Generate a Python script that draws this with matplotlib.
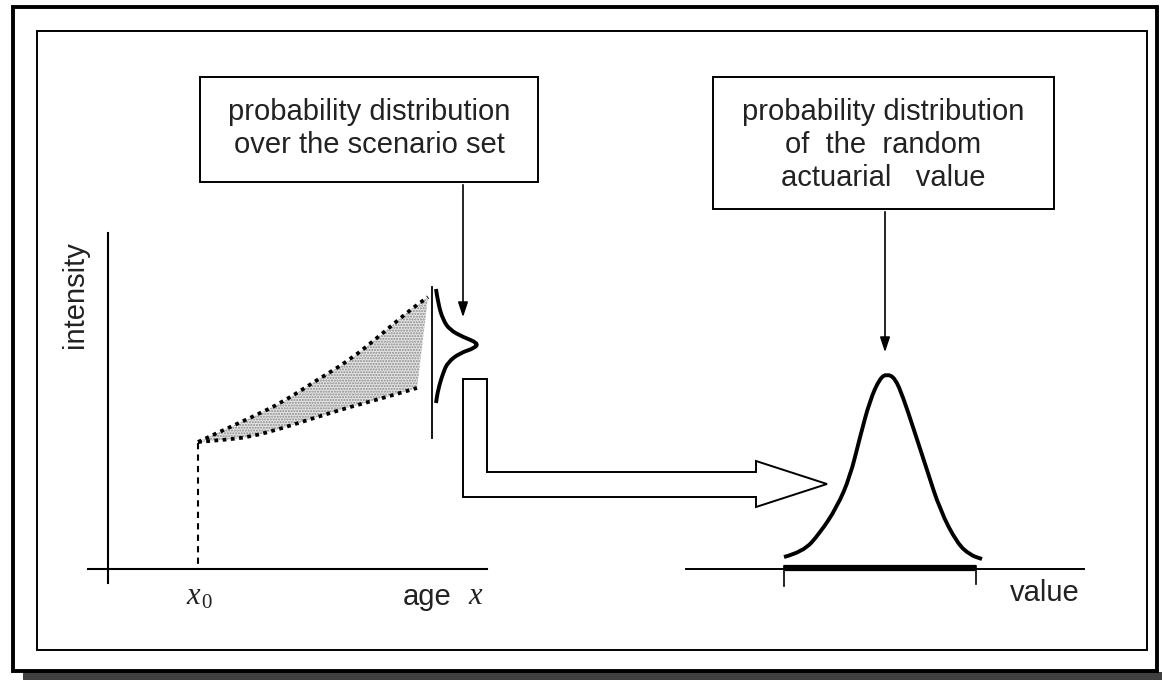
import numpy as np
import matplotlib
matplotlib.use("Agg")
import matplotlib.pyplot as plt
from matplotlib.patches import Rectangle, Polygon, PathPatch
from matplotlib.path import Path

# --- data (pixel coords, y downwards) ---
# upper / lower scenario curves of the intensity band
upper_x = [198, 217, 250, 283, 317, 350, 383, 410, 428]
upper_y = [442, 433, 418, 402, 380, 360, 333, 310, 297]
lower_x = [198, 223, 250, 283, 317, 350, 383, 417]
lower_y = [442, 440, 437, 428, 417, 407, 398, 388]

# sideways density over the scenario set
side_x = [436, 438, 443, 450, 463, 478, 475, 460, 448, 443, 438, 436]
side_y = [289, 303, 320, 330, 337, 343, 348, 353, 362, 373, 390, 403]

# density of the random actuarial value
bell_x = [784, 803, 820, 837, 850, 860, 870, 880, 887, 895, 903, 913, 927, 940, 957, 970, 982]
bell_y = [557, 552, 533, 507, 477, 437, 400, 378, 374, 378, 397, 427, 470, 510, 543, 555, 559]

box1_lines = ["probability distribution", "over the scenario set"]
box2_lines = ["probability distribution", "of  the  random", "actuarial   value"]

plt.rcParams['font.family'] = ['Liberation Sans', 'DejaVu Sans']
plt.rcParams['hatch.linewidth'] = 1.0

FS = 21
TXT = '#222222'


def smooth(xs, ys):
    # quadratic bezier through midpoints, so the curve is drawn smooth
    pts = list(zip(xs, ys))
    verts = [pts[0]]
    codes = [Path.MOVETO]
    for i in range(1, len(pts) - 1):
        mx = (pts[i][0] + pts[i + 1][0]) / 2
        my = (pts[i][1] + pts[i + 1][1]) / 2
        verts += [pts[i], (mx, my)]
        codes += [Path.CURVE3, Path.CURVE3]
    verts.append(pts[-1])
    codes.append(Path.LINETO)
    return Path(verts, codes)


fig = plt.figure(figsize=(11.62, 6.8), dpi=100)
ax = fig.add_axes([0, 0, 1, 1])
ax.set_xlim(0, 1162)
ax.set_ylim(680, 0)
ax.axis('off')

# frames + shadow
ax.add_patch(Rectangle((23, 672), 1162, 10, color='#404040', lw=0))
ax.add_patch(Rectangle((13, 7), 1144, 664, fill=False, ec='black', lw=2.8))
ax.add_patch(Rectangle((37, 31), 1110, 619, fill=False, ec='black', lw=1.4))

# text boxes
ax.add_patch(Rectangle((200, 77), 338, 105, fill=False, ec='black', lw=1.4))
for i, t in enumerate(box1_lines):
    ax.text(369, 112 + i * 33, t, ha='center', va='center', fontsize=FS, color=TXT)
ax.add_patch(Rectangle((713, 77), 341, 132, fill=False, ec='black', lw=1.4))
for i, t in enumerate(box2_lines):
    ax.text(883, 112 + i * 33, t, ha='center', va='center', fontsize=FS, color=TXT)

# arrows from the boxes
ax.annotate('', xy=(463, 320), xytext=(463, 182),
            arrowprops=dict(arrowstyle='-|>,head_width=0.3,head_length=0.9', color='black', lw=1.2))
ax.annotate('', xy=(885, 355), xytext=(885, 209),
            arrowprops=dict(arrowstyle='-|>,head_width=0.3,head_length=0.9', color='black', lw=1.2))

# left axes
ax.plot([88, 487], [569, 569], color='black', lw=1.5)
ax.plot([108, 108], [233, 583], color='black', lw=1.5)
ax.plot([198, 198], [443, 569], color='black', lw=1.5, ls=(0, (3, 2.5)))
ax.plot([432, 432], [287, 438], color='black', lw=1.3)

# shaded band (stippled grey)
band = list(zip(upper_x, upper_y)) + list(zip(lower_x[::-1], lower_y[::-1]))
ax.add_patch(Polygon(band, closed=True, fc='#e4e4e4', ec='#8a8a8a', hatch='......', lw=0))
ax.add_patch(PathPatch(smooth(upper_x, upper_y), fill=False, ec='black', lw=2.7, ls=(0, (1, 1.2))))
ax.add_patch(PathPatch(smooth(lower_x, lower_y), fill=False, ec='black', lw=2.7, ls=(0, (1, 1.2))))

ax.add_patch(PathPatch(smooth(side_x, side_y), fill=False, ec='black', lw=2.8, capstyle='butt'))

# fat L-shaped arrow
fat = [(463, 379), (487, 379), (487, 472), (756, 472), (756, 461), (827, 484),
       (756, 507), (756, 497), (463, 497)]
ax.add_patch(Polygon(fat, closed=True, fc='white', ec='black', lw=1.4))

# right axis + bell
ax.plot([686, 1084], [569, 569], color='black', lw=1.4)
ax.plot([784, 976], [568, 568], color='black', lw=4.5, solid_capstyle='butt')
ax.plot([784, 784], [566, 586], color='black', lw=1.2)
ax.plot([976, 976], [566, 584], color='black', lw=1.2)
ax.add_patch(PathPatch(smooth(bell_x, bell_y), fill=False, ec='black', lw=2.8))

# labels
ax.text(75, 295, "intensity", rotation=90, ha='center', va='center', fontsize=FS, color=TXT)
ax.text(427, 597, "age", ha='center', va='center', fontsize=FS, color=TXT)
ax.text(475, 597, "x", ha='center', va='center', fontsize=22, style='italic',
        family=['Liberation Serif'], color=TXT)
ax.text(193, 596, "x", ha='center', va='center', fontsize=22, style='italic',
        family=['Liberation Serif'], color=TXT)
ax.text(206, 603, "0", ha='center', va='center', fontsize=15,
        family=['Liberation Serif'], color=TXT)
ax.text(1045, 593, "value", ha='center', va='center', fontsize=FS, color=TXT)

fig.savefig("out.png", dpi=100)
